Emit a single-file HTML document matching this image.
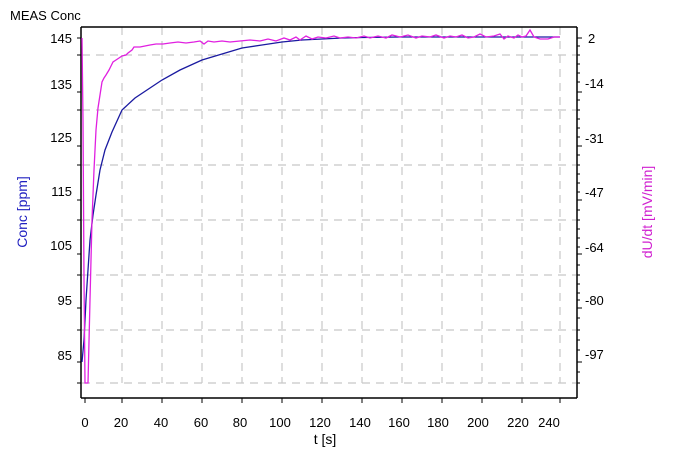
<!DOCTYPE html><html><head><style>body{margin:0;background:#fff}svg{display:block;font-family:"Liberation Sans",sans-serif}</style></head><body>
<svg width="673" height="463" viewBox="0 0 673 463">
<rect width="673" height="463" fill="#fff"/>
<text x="10" y="20" font-size="13" fill="#000">MEAS Conc</text>
<g stroke="#c8c8c8" stroke-dasharray="8,6" stroke-width="1.2">
<line x1="82" y1="55" x2="576" y2="55"/><line x1="82" y1="110" x2="576" y2="110"/><line x1="82" y1="165" x2="576" y2="165"/><line x1="82" y1="220" x2="576" y2="220"/><line x1="82" y1="275" x2="576" y2="275"/><line x1="82" y1="330" x2="576" y2="330"/><line x1="82" y1="383" x2="576" y2="383"/>
<line x1="122" y1="27" x2="122" y2="383"/><line x1="162" y1="27" x2="162" y2="383"/><line x1="202" y1="27" x2="202" y2="383"/><line x1="242" y1="27" x2="242" y2="383"/><line x1="282" y1="27" x2="282" y2="383"/><line x1="322" y1="27" x2="322" y2="383"/><line x1="362" y1="27" x2="362" y2="383"/><line x1="402" y1="27" x2="402" y2="383"/><line x1="442" y1="27" x2="442" y2="383"/><line x1="482" y1="27" x2="482" y2="383"/><line x1="522" y1="27" x2="522" y2="383"/><line x1="560" y1="27" x2="560" y2="383"/>
</g>
<line x1="81" y1="27" x2="577" y2="27" stroke="#000" stroke-width="1.5"/>
<line x1="81" y1="27" x2="81" y2="398" stroke="#000" stroke-width="1.5"/>
<line x1="577" y1="27" x2="577" y2="398" stroke="#000" stroke-width="1.5"/>
<line x1="81" y1="398" x2="577" y2="398" stroke="#000" stroke-width="1.5"/>
<g stroke="#000" stroke-width="1">
<path d="M77 38h4M77 92h4M77 146h4M77 200h4M77 254h4M77 308h4M77 362h4M77 55h4M77 110h4M77 165h4M77 220h4M77 275h4M77 330h4M77 383h4"/>
<path d="M577 38h5M577 92h5M577 146h5M577 200h5M577 254h5M577 308h5M577 362h5"/>
<path d="M577 46h3M577 55h3M577 64h3M577 73h3M577 82h3M577 100h3M577 110h3M577 119h3M577 128h3M577 137h3M577 155h3M577 165h3M577 174h3M577 183h3M577 192h3M577 210h3M577 220h3M577 229h3M577 238h3M577 247h3M577 265h3M577 275h3M577 284h3M577 293h3M577 300h3M577 318h3M577 330h3M577 340h3M577 350h3M577 372h3M577 383h3"/>
<path d="M85 398v5M122 398v5M162 398v5M202 398v5M242 398v5M282 398v5M322 398v5M362 398v5M402 398v5M442 398v5M482 398v5M522 398v5M560 398v5"/>
</g>
<g font-size="13" text-anchor="end">
<text x="72" y="43">145</text><text x="72" y="89">135</text><text x="72" y="142">125</text><text x="72" y="196">115</text><text x="72" y="250">105</text><text x="72" y="305">95</text><text x="72" y="360">85</text>
</g>
<g font-size="13">
<text x="588" y="43">2</text><text x="585" y="88">-14</text><text x="585" y="143">-31</text><text x="585" y="197">-47</text><text x="585" y="252">-64</text><text x="585" y="305">-80</text><text x="585" y="359">-97</text>
</g>
<g font-size="13" text-anchor="middle">
<text x="85" y="427">0</text><text x="121" y="427">20</text><text x="161" y="427">40</text><text x="201" y="427">60</text><text x="240" y="427">80</text><text x="280" y="427">100</text><text x="320" y="427">120</text><text x="360" y="427">140</text><text x="399" y="427">160</text><text x="438" y="427">180</text><text x="478" y="427">200</text><text x="518" y="427">220</text><text x="549" y="427">240</text>
<text x="325" y="444" font-size="14">t [s]</text>
</g>
<text transform="translate(27,212) rotate(-90)" text-anchor="middle" font-size="14" fill="#2020c0">Conc [ppm]</text>
<text transform="translate(652,212) rotate(-90)" text-anchor="middle" font-size="14" fill="#d020d0">dU/dt [mV/min]</text>
<path fill="none" stroke="#1a1aa0" stroke-width="1.3" d="M82 362L84 340L86 300L88 270L90 240L93 215L96 195L100 170L105 150L112 132L122 110L135 98L150 88L162 80L180 70L202 60L222 54L242 48L262 45L282 42L302 40L322 39L342 38L362 37.5L400 37L560 37"/>
<path fill="none" stroke="#e020e0" stroke-width="1.3" d="M82 38L83 120L84 280L85 383L88 383L90 300L92 220L94 170L96 130L98 108L100 95L102 82L104 78L106 75L109 70L111 66L113 62L116 60L119 58L122 56L126 55L128 53L132 50L134 47L140 47L145 46L150 45L156 44L163 44L170 43L178 42L186 43L194 42L200 41L204 44L208 41L214 42L222 41L230 42L240 41L250 40L260 41L268 39L276 41L284 38L290 40L296 37L300 40L306 36L312 39L318 37L326 38L334 36L340 38L348 37L356 38L364 36L370 38L378 36L386 38L392 35L400 37L408 35L416 38L422 36L430 37L436 35L444 38L450 36L456 37L462 35L468 38L474 37L480 34L486 37L494 36L500 34L504 39L508 36L514 38L518 35L522 37L526 36L530 30L534 37L540 39L548 39L554 37L560 37"/>
</svg>
</body></html>
